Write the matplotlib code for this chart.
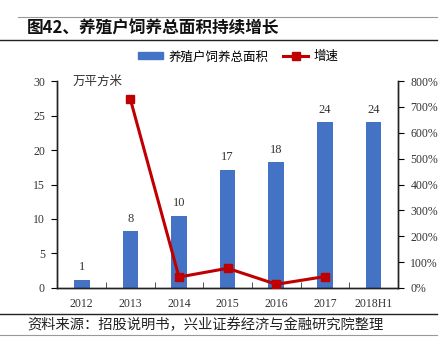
import matplotlib
matplotlib.use("Agg")
import matplotlib.pyplot as plt
from matplotlib.lines import Line2D
import numpy as np

categories = ["2012", "2013", "2014", "2015", "2016", "2017", "2018H1"]
area = [1.1, 8.2, 10.4, 17.1, 18.2, 24.0, 24.0]
area_labels = ["1", "8", "10", "17", "18", "24", "24"]
growth = [np.nan, 730, 42, 76, 14, 44, np.nan]

cjk = ["Noto Sans CJK SC", "DejaVu Sans"]
serif = ["Liberation Serif", "DejaVu Serif"]
blue = "#4472C4"
red = "#C00000"

fig = plt.figure(figsize=(4.45, 3.59), dpi=100)
ax = fig.add_axes([0.129, 0.198, 0.765, 0.576])
ax2 = ax.twinx()

x = np.arange(len(categories))
ax.bar(x, area, width=0.32, color=blue, zorder=2)
for xi, v, lab in zip(x, area, area_labels):
    ax.text(xi, v + 1.0, lab, ha="center", va="bottom", fontsize=9, family=serif, color="#333333")

ax2.plot(x, growth, color=red, lw=2.2, marker="s", ms=6, zorder=3)

ax.set_xlim(-0.5, len(categories) - 0.5)
ax.set_ylim(0, 30)
ax.set_yticks(range(0, 31, 5))
ax2.set_ylim(0, 800)
ax2.set_yticks(range(0, 801, 100))
ax2.set_yticklabels([f"{v}%" for v in range(0, 801, 100)])

ax.set_xticks(x)
ax.set_xticklabels(categories)
ax.set_xticks(np.arange(-0.5, len(categories), 1), minor=True)
ax.tick_params(axis="x", which="major", length=0, pad=7)
ax.tick_params(axis="x", which="minor", length=4, direction="in", color="#333333")
ax.tick_params(axis="y", length=4, direction="out", pad=5)
ax2.tick_params(axis="y", length=4, direction="out", pad=5)

for a in (ax, ax2):
    for lab in a.get_yticklabels():
        lab.set_fontfamily(serif)
        lab.set_fontsize(8.5)
        lab.set_color("#333333")
    for s in a.spines.values():
        s.set_color("#222222")
        s.set_linewidth(1.0)
    a.spines["top"].set_visible(False)
for lab in ax.get_xticklabels():
    lab.set_fontfamily(serif)
    lab.set_fontsize(8.5)
    lab.set_color("#333333")

ax.text(0.045, 1.0, "万平方米", transform=ax.transAxes, ha="left", va="center",
        fontsize=9, family=cjk, color="#333333")

handles = [
    plt.Rectangle((0, 0), 1, 1, color=blue),
    Line2D([0], [0], color=red, lw=2.2, marker="s", ms=6),
]
fig.legend(handles, ["养殖户饲养总面积", "增速"], loc="center", bbox_to_anchor=(0.535, 0.842),
           ncol=2, frameon=False, prop={"family": cjk, "size": 9},
           handlelength=2.0, handleheight=0.5, columnspacing=1.2, handletextpad=0.4)

# title and decorative lines
fig.add_artist(Line2D([18/445, 437/445], [1 - 17/359, 1 - 17/359], color="#999999", lw=0.8))
fig.add_artist(Line2D([0, 437/445], [1 - 40/359, 1 - 40/359], color="#222222", lw=1.0))
fig.text(27/445, 1 - 29/359, "图42、养殖户饲养总面积持续增长", ha="left", va="center",
         fontsize=12, fontweight="bold", family=cjk, color="#111111")

fig.add_artist(Line2D([0, 437/445], [1 - 314/359, 1 - 314/359], color="#222222", lw=1.0))
fig.add_artist(Line2D([0, 437/445], [1 - 335/359, 1 - 335/359], color="#999999", lw=0.8))
fig.text(27/445, 1 - 324.5/359, "资料来源：招股说明书，兴业证券经济与金融研究院整理", ha="left", va="center",
         fontsize=10.3, family=cjk, color="#222222")

fig.savefig("out.png", dpi=100)
